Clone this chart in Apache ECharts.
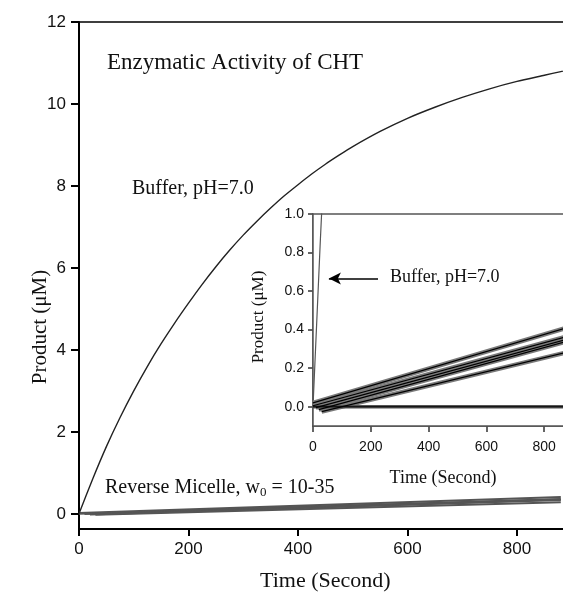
<!DOCTYPE html>
<html>
<head>
<meta charset="utf-8">
<script src="https://cdn.jsdelivr.net/npm/echarts@6/dist/echarts.min.js"></script>
<style>html,body{margin:0;padding:0;background:#fff;}#c{width:563px;height:592px;}</style>
</head>
<body>
<div id="c"></div>
<script>
// Buffer curve (main plot), time in s, product in µM
const buffTime = [0,25,50,75,100,125,150,175,200,225,250,275,300,325,350,375,400,425,450,475,500,550,600,650,700,750,800,850,880,900];
const buffVal  = [0,0.85,1.64,2.35,3.0,3.6,4.15,4.66,5.14,5.6,6.03,6.43,6.8,7.14,7.46,7.76,8.03,8.29,8.53,8.75,8.96,9.33,9.65,9.92,10.16,10.37,10.55,10.7,10.79,10.84];
// Reverse micelle runs (straight fits): start time/value, end time/value
const rmT0 = [0, 0, 10, 20, 30];
const rmV0 = [0.02, 0.005, -0.005, -0.015, -0.025];
const rmT1 = [880, 880, 880, 880, 880];
const rmV1 = [0.41, 0.365, 0.35, 0.34, 0.283];
// Control (flat)
const ctrlT = [0, 880];
const ctrlV = [0, 0];
// Tick labels
const mainXTicks = [0, 200, 400, 600, 800];
const mainYTicks = [0, 2, 4, 6, 8, 10, 12];
const insetYTicks = [0, 0.2, 0.4, 0.6, 0.8, 1.0];

const SERIF = 'Liberation Serif';
const SANS = 'Liberation Sans';

const buffData = buffTime.map((t, i) => [t, buffVal[i]]);
const rmData = rmT0.map((t, i) => [[t, rmV0[i]], [rmT1[i], rmV1[i]]]);
const ctrlData = ctrlT.map((t, i) => [t, ctrlV[i]]);

const series = [];
// main
series.push({type:'line', xAxisIndex:0, yAxisIndex:0, data:buffData, showSymbol:false, smooth:0.2,
  lineStyle:{color:'#222', width:1.4}, z:3});
rmData.forEach(d => series.push({type:'line', xAxisIndex:0, yAxisIndex:0, data:d, showSymbol:false,
  lineStyle:{color:'#555', width:2}, z:2}));
// inset
series.push({type:'line', xAxisIndex:1, yAxisIndex:1, data:buffData, showSymbol:false, clip:true,
  lineStyle:{color:'#555', width:1.2}, z:5,
  markLine:{silent:true, symbol:['none','arrow'], symbolSize:[9,12], label:{show:false},
    lineStyle:{color:'#000', width:1.6, type:'solid'},
    data:[[{coord:[225,0.665]},{coord:[55,0.665]}]]}});
rmData.forEach(d => series.push({type:'line', xAxisIndex:1, yAxisIndex:1, data:d, showSymbol:false, clip:true,
  lineStyle:{color:'#7a7a7a', width:4.5}, z:5}));
series.push({type:'line', xAxisIndex:1, yAxisIndex:1, data:ctrlData, showSymbol:false, clip:true,
  lineStyle:{color:'#555', width:3.5}, z:5});
rmData.forEach(d => series.push({type:'line', xAxisIndex:1, yAxisIndex:1, data:d, showSymbol:false, clip:true,
  lineStyle:{color:'#000', width:1.2}, z:6}));
series.push({type:'line', xAxisIndex:1, yAxisIndex:1, data:ctrlData, showSymbol:false, clip:true,
  lineStyle:{color:'#000', width:1.2}, z:6});

const chart = echarts.init(document.getElementById('c'), null, {renderer:'canvas'});
chart.setOption({
  backgroundColor:'#fff',
  animation:false,
  grid:[
    {left:79, top:22, width:492.75, height:507, show:true, borderColor:'#000', borderWidth:1.5, backgroundColor:'transparent', containLabel:false, outerBoundsMode:'none'},
    {left:313, top:214, width:260, height:212, show:true, borderColor:'#555', borderWidth:1.5, backgroundColor:'#fff', containLabel:false, outerBoundsMode:'none', z:4}
  ],
  xAxis:[
    {type:'value', gridIndex:0, min:0, max:900, interval:200,
      axisLine:{show:true, onZero:false, lineStyle:{color:'#000', width:2}},
      axisTick:{show:true, length:7, lineStyle:{color:'#000', width:2}},
      axisLabel:{color:'#111', fontFamily:SANS, fontSize:17, margin:12,
        customValues: mainXTicks},
      splitLine:{show:false},
      name:'Time (Second)', nameLocation:'middle', nameGap:41,
      nameTextStyle:{fontFamily:SERIF, fontSize:22, color:'#111'}},
    {type:'value', gridIndex:1, min:0, max:900, interval:200,
      axisLine:{show:true, onZero:false, lineStyle:{color:'#333', width:1.5}},
      axisTick:{show:true, length:6, lineStyle:{color:'#333', width:1.5}},
      axisLabel:{color:'#111', fontFamily:SANS, fontSize:14, margin:14, customValues: mainXTicks},
      splitLine:{show:false},
      name:'Time (Second)', nameLocation:'middle', nameGap:43,
      nameTextStyle:{fontFamily:SERIF, fontSize:18, color:'#111'}}
  ],
  yAxis:[
    {type:'value', gridIndex:0, min:-0.37, max:12,
      axisLine:{show:true, onZero:false, lineStyle:{color:'#000', width:2}},
      axisTick:{show:true, length:8, customValues: mainYTicks, lineStyle:{color:'#000', width:2}},
      axisLabel:{color:'#111', fontFamily:SANS, fontSize:17, margin:13, customValues: mainYTicks,
        formatter: v => String(Math.round(v))},
      splitLine:{show:false}},
    {type:'value', gridIndex:1, min:-0.1, max:1.0,
      axisLine:{show:true, onZero:false, lineStyle:{color:'#333', width:1.5}},
      axisTick:{show:true, length:5, customValues: insetYTicks, lineStyle:{color:'#333', width:1.5}},
      axisLabel:{color:'#111', fontFamily:SANS, fontSize:14, margin:9, customValues: insetYTicks,
        formatter: v => v.toFixed(1)},
      splitLine:{show:false}}
  ],
  series: series,
  graphic:[
    {type:'text', left:107, top:51, z:10, style:{text:'Enzymatic Activity of CHT', font:'23px "Liberation Serif"', fill:'#111'}},
    {type:'text', left:132, top:179, z:10, style:{text:'Buffer, pH=7.0', font:'20px "Liberation Serif"', fill:'#111'}},
    {type:'text', left:105, top:478, z:10, style:{
      text:'{a|Reverse Micelle, w}{s|0}{a| = 10-35}',
      rich:{a:{fontFamily:SERIF, fontSize:20, fill:'#111', color:'#111'},
            s:{fontFamily:SERIF, fontSize:13, fill:'#111', color:'#111', verticalAlign:'bottom', padding:[10,0,0,0]}}}},
    {type:'text', left:390, top:268, z:10, style:{text:'Buffer, pH=7.0', font:'18px "Liberation Serif"', fill:'#111'}},
    {type:'text', x:40, y:327, rotation:Math.PI/2, z:10, style:{text:'Product (\u03BCM)', font:'21px "Liberation Serif"', fill:'#111', align:'center', verticalAlign:'middle'}},
    {type:'text', x:259, y:317, rotation:Math.PI/2, z:10, style:{text:'Product (\u03BCM)', font:'17px "Liberation Serif"', fill:'#111', align:'center', verticalAlign:'middle'}}
  ]
});
</script>
</body>
</html>
